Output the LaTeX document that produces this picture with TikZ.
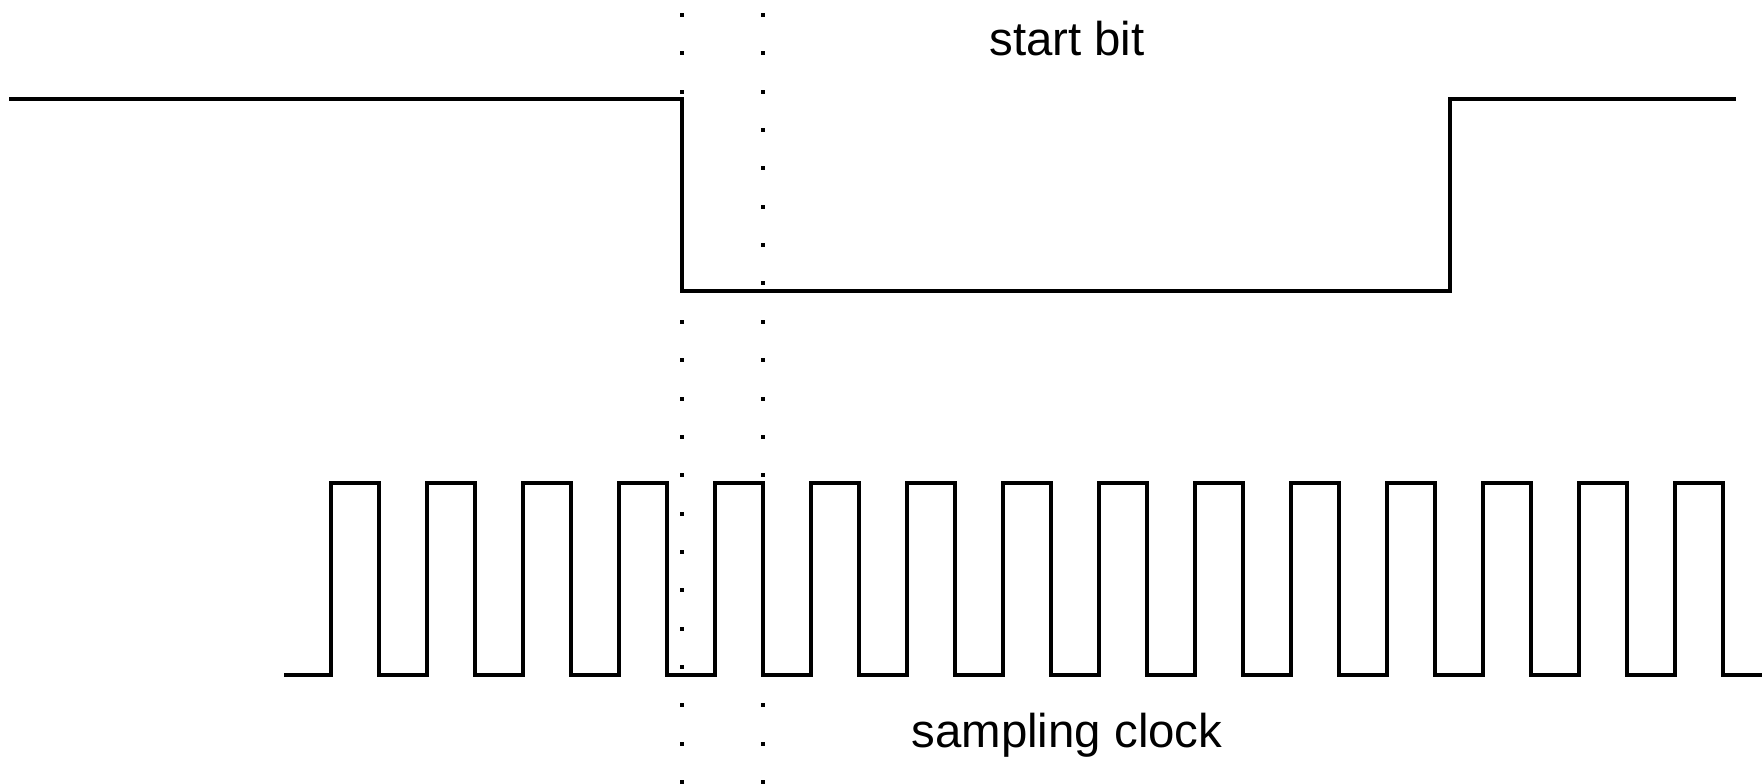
\documentclass[tikz,border=0pt]{standalone}
\usepackage{fontspec}
\setmainfont{Liberation Sans}
\begin{document}
\begin{tikzpicture}[x=1pt,y=-1pt,
  signal/.style={line width=3.3pt, line join=miter},
  markdot/.style={fill=black},
  sigtext/.style={font=\fontsize{47.4}{56}\selectfont, inner sep=0pt, anchor=base}]
\useasboundingbox (0,0) rectangle (1762,784);
% serial data line, dropping low for the start bit
\draw[signal] (9,99) -- (682,99) -- (682,291) -- (1450,291) -- (1450,99) -- (1736,99);
% sampling clock, 15 pulses
\draw[signal] (284,675)
  foreach \k in {0,...,14} {
    -- ({331+96*\k},675) -- ({331+96*\k},483)
    -- ({379+96*\k},483) -- ({379+96*\k},675)
  } -- (1762,675);
% dotted marker lines
\foreach \x in {682,763}
  \foreach \i in {0,...,20}
    \fill[markdot] ({\x-2},{15+38.35*\i-2}) rectangle ++(4,4);
% captions
\node[sigtext] (startbit) at (1067,56) {start bit};
\node[sigtext] (sampclk) at (1067,747) {sampling clock};
\end{tikzpicture}
\end{document}
